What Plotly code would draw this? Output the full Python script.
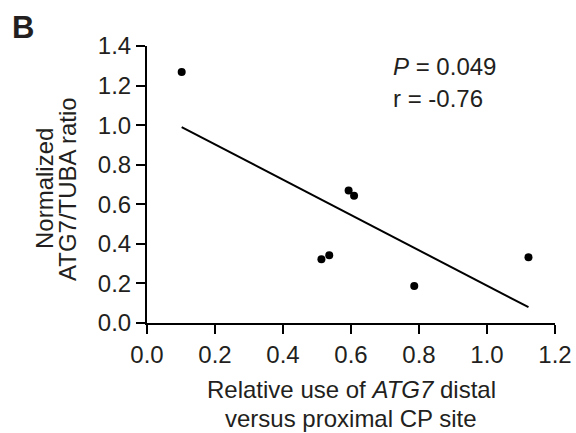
import numpy as np
import plotly.graph_objects as go

# Data
x_vals = [0.102, 0.513, 0.536, 0.593, 0.609, 0.786, 1.122]
y_vals = [1.268, 0.322, 0.343, 0.670, 0.643, 0.187, 0.332]
x_ticks = [0.0, 0.2, 0.4, 0.6, 0.8, 1.0, 1.2]
y_ticks = [0.0, 0.2, 0.4, 0.6, 0.8, 1.0, 1.2, 1.4]

# Linear regression line over data range
slope, intercept = np.polyfit(x_vals, y_vals, 1)
fit_x = [min(x_vals), max(x_vals)]
fit_y = [slope * v + intercept for v in fit_x]

FONT = "Arial, Liberation Sans, Helvetica, sans-serif"
TXT = "#231f20"
FS = 24

L, R, T, B = 147, 21, 46, 110
PW, PH = 576 - L - R, 433 - T - B


def px(x):
    return (x - L) / PW


def py(y):
    return (433 - B - y) / PH


fig = go.Figure()
fig.add_trace(go.Scatter(x=fit_x, y=fit_y, mode="lines",
                         line=dict(color="black", width=2), hoverinfo="skip"))
fig.add_trace(go.Scatter(x=x_vals, y=y_vals, mode="markers",
                         marker=dict(color="black", size=8)))

axis_common = dict(showgrid=False, zeroline=False, showline=True, linecolor="black",
                   linewidth=2, ticks="outside", ticklen=9, tickwidth=2, tickcolor="black",
                   automargin=False,
                   tickfont=dict(family=FONT, size=FS, color=TXT))

fig.update_xaxes(range=[0, 1.2], tickvals=x_ticks, ticktext=[f"{t:.1f}" for t in x_ticks],
                 **axis_common)
fig.update_yaxes(range=[0, 1.4], tickvals=y_ticks, ticktext=[f"{t:.1f}" for t in y_ticks],
                 **axis_common)


def ann(text, x, y, size=FS, xanchor="center", angle=0, yanchor="middle"):
    return dict(text=text, xref="paper", yref="paper", x=px(x), y=py(y),
                xanchor=xanchor, yanchor=yanchor, textangle=angle, showarrow=False,
                font=dict(family=FONT, size=size, color=TXT))


fig.update_layout(
    template="none",
    width=576, height=433,
    margin=dict(l=L, r=R, t=T, b=B, pad=0),
    plot_bgcolor="white", paper_bgcolor="white",
    showlegend=False,
    font=dict(family=FONT, color=TXT),
    annotations=[
        ann("<b>B</b>", 10, 8, size=31, xanchor="left", yanchor="top"),
        ann("Normalized", 44, 189, size=FS, angle=-90),
        ann("ATG7/TUBA ratio", 67, 189, size=FS, angle=-90),
        ann("Relative use of <i>ATG7</i> distal", 351, 390, size=FS),
        ann("versus proximal CP site", 351, 418, size=FS),
        ann("<i>P</i> = 0.049", 391, 66, size=FS, xanchor="left"),
        ann("r = -0.76", 391, 98, size=FS, xanchor="left"),
    ],
)

fig.write_html("out.html", config={"displayModeBar": False},
               post_script="document.body.style.margin='0px';")
